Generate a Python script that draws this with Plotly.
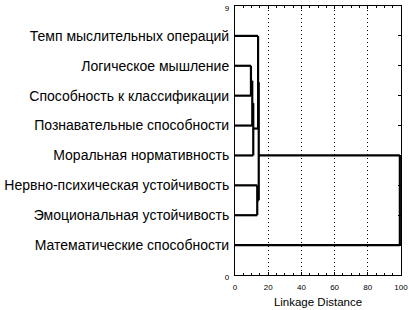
import plotly.graph_objects as go

labels = [
    "Темп мыслительных операций",
    "Логическое мышление",
    "Способность к классификации",
    "Познавательные способности",
    "Моральная нормативность",
    "Нервно-психическая устойчивость",
    "Эмоциональная устойчивость",
    "Математические способности",
]
leaf_y = [8, 7, 6, 5, 4, 3, 2, 1]

# merges (ids 0-7 are leaves, new clusters get ids 8, 9, ...)
merge_a = [1, 8, 9, 5, 0, 12, 13]
merge_b = [2, 3, 4, 6, 10, 11, 7]
merge_dist = [9.6, 10.4, 11.0, 13.4, 13.9, 14.3, 99.3]
merge_y = [6.5, 5.75, 4.9, 2.5, 6.45, 4.0, 2.5]  # level of the joined cluster's line

x_ticks = [0, 20, 40, 60, 80, 100]

# build tree geometry from the data
node_y = list(leaf_y) + list(merge_y)
node_d = [0.0] * len(leaf_y) + list(merge_dist)
xs, ys = [], []
for a, b, d in zip(merge_a, merge_b, merge_dist):
    for c in (a, b):
        xs += [node_d[c], d, None]
        ys += [node_y[c], node_y[c], None]
    xs += [d, d, None]
    ys += [node_y[a], node_y[b], None]

fig = go.Figure()
fig.add_trace(go.Scatter(x=xs, y=ys, mode="lines",
                         line=dict(color="black", width=2.2),
                         hoverinfo="skip", showlegend=False))

small = '<span style="font-size:8px">{}</span>'
tickvals = [0] + leaf_y + [9]
ticktext = [small.format("0")] + labels + [small.format("9")]

fig.update_layout(
    width=409, height=310,
    margin=dict(l=235, r=8, t=6, b=35, autoexpand=False),
    paper_bgcolor="white", plot_bgcolor="white",
    font=dict(family="Liberation Sans, Arial, sans-serif", color="black", size=14),
    xaxis=dict(
        range=[0, 100], tickvals=x_ticks, ticks="inside", ticklen=3,
        tickcolor="black", tickfont=dict(size=8), ticklabelstandoff=4,
        showline=True, linecolor="black", linewidth=1, mirror="ticks",
        showgrid=True, gridcolor="black", griddash="1px,3px", gridwidth=1,
        zeroline=False,
        minor=dict(dtick=5, ticks="inside", ticklen=2, tickcolor="black", showgrid=False),
        title=dict(text="Linkage Distance", font=dict(size=11.5), standoff=7),
    ),
    yaxis=dict(
        range=[0, 9], tickvals=tickvals, ticktext=ticktext,
        ticks="inside", ticklen=3, tickcolor="black",
        showline=True, linecolor="black", linewidth=1, mirror="ticks",
        showgrid=False, zeroline=False, ticklabelstandoff=2,
    ),
)

fig.write_html("out.html", config={"displayModeBar": False},
               post_script="document.body.style.margin='0';document.body.style.overflow='hidden';")
